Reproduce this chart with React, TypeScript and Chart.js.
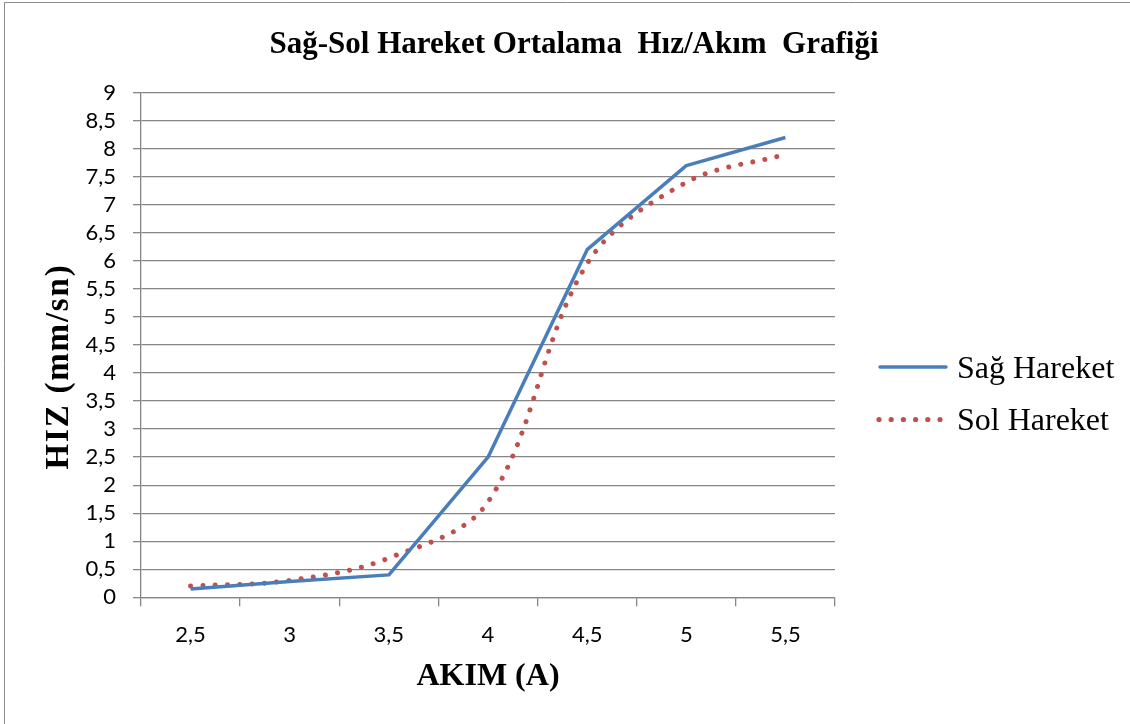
import React, { useEffect, useRef } from "react";
import { Chart, registerables } from "chart.js";

Chart.register(...registerables);

const categories = ["2,5", "3", "3,5", "4", "4,5", "5", "5,5"];
const sagHareket = [0.15, 0.28, 0.4, 2.5, 6.2, 7.7, 8.2];
const solHareket = [0.2, 0.3, 0.7, 1.7, 5.95, 7.4, 7.9];
const seriesNames = ["Sağ Hareket", "Sol Hareket"];
const chartTitle = "Sağ-Sol Hareket Ortalama  Hız/Akım  Grafiği";
const xTitle = "AKIM (A)";
const yTitle = "HIZ (mm/sn)";
const yMin = 0;
const yMax = 9;
const yStep = 0.5;

const BLUE = "#4a7ebb";
const RED = "#c0504d";
const GRID = "#868686";

const W = 1130;
const H = 724;

const decorPlugin = {
  id: "decor",
  beforeDraw(chart: any) {
    const ctx = chart.ctx;
    ctx.save();
    ctx.fillStyle = "#fff";
    ctx.fillRect(0, 0, W, H);
    ctx.strokeStyle = "#8c8c8c";
    ctx.lineWidth = 1;
    ctx.beginPath();
    ctx.moveTo(4.5, H);
    ctx.lineTo(4.5, 2.5);
    ctx.lineTo(W, 2.5);
    ctx.stroke();
    ctx.restore();
  },
  afterDraw(chart: any) {
    const ctx = chart.ctx;
    ctx.save();
    ctx.fillStyle = "#000";
    ctx.textBaseline = "alphabetic";
    // title
    ctx.font = 'bold 31px "Liberation Serif"';
    ctx.textAlign = "center";
    ctx.fillText(chartTitle, 574, 53);
    // y title
    ctx.save();
    ctx.translate(68, 366.5);
    ctx.rotate(-Math.PI / 2);
    ctx.font = 'bold 33px "Liberation Serif"';
    (ctx as any).letterSpacing = "1.8px";
    ctx.textAlign = "center";
    ctx.fillText(yTitle, 0, 0);
    ctx.restore();
    // legend
    ctx.lineCap = "round";
    ctx.strokeStyle = BLUE;
    ctx.lineWidth = 3.5;
    ctx.beginPath();
    ctx.moveTo(880, 367);
    ctx.lineTo(946, 367);
    ctx.stroke();
    ctx.fillStyle = RED;
    for (let i = 0; i < 6; i++) {
      ctx.beginPath();
      ctx.arc(879 + i * 12.2, 419.5, 2.6, 0, Math.PI * 2);
      ctx.fill();
    }
    ctx.fillStyle = "#000";
    ctx.textAlign = "left";
    ctx.font = '32px "Liberation Serif"';
    ctx.fillText(seriesNames[0], 957, 378);
    ctx.fillText(seriesNames[1], 957, 430);
    ctx.restore();
  },
};

export default function App() {
  const canvasRef = useRef<HTMLCanvasElement | null>(null);

  useEffect(() => {
    if (!canvasRef.current) return;
    const chart = new Chart(canvasRef.current, {
      type: "line",
      data: {
        labels: categories,
        datasets: [
          {
            label: seriesNames[0],
            data: sagHareket,
            borderColor: BLUE,
            backgroundColor: BLUE,
            borderWidth: 3.5,
            pointRadius: 0,
            tension: 0,
            borderJoinStyle: "round",
          },
          {
            label: seriesNames[1],
            data: solHareket,
            borderColor: RED,
            backgroundColor: RED,
            borderWidth: 5,
            pointRadius: 0,
            tension: 0.35,
            borderCapStyle: "round",
            borderDash: [0.01, 12.3],
          },
        ],
      },
      options: {
        responsive: false,
        animation: false,
        events: [],
        layout: { padding: { top: 92.7, right: W - 835, left: 0, bottom: 0 } },
        plugins: {
          legend: { display: false },
          title: { display: false },
          tooltip: { enabled: false },
        },
        scales: {
          x: {
            type: "category",
            offset: true,
            grid: {
              display: true,
              drawOnChartArea: false,
              drawTicks: true,
              tickLength: 9,
              color: GRID,
              lineWidth: 1.3,
              offset: true,
            },
            border: { display: true, color: GRID, width: 1.3 },
            ticks: {
              font: { family: "Lato", size: 22 },
              color: "#000",
              padding: 15,
              maxRotation: 0,
              autoSkip: false,
            },
            title: {
              display: true,
              text: xTitle,
              font: { family: '"Liberation Serif"', size: 32, weight: "bold" },
              color: "#000",
              padding: { top: 0, bottom: 28 },
            },
            afterFit: (s: any) => {
              s.height = H - 597.3;
            },
          },
          y: {
            min: yMin,
            max: yMax,
            ticks: {
              stepSize: yStep,
              autoSkip: false,
              font: { family: "Lato", size: 22 },
              color: "#000",
              padding: 17,
              callback: (v: any) => String(v).replace(".", ","),
            },
            grid: { color: GRID, lineWidth: 1.3, tickLength: 8, drawTicks: true },
            border: { display: true, color: GRID, width: 1.3 },
            afterFit: (s: any) => {
              s.width = 141;
            },
          },
        },
      },
      plugins: [decorPlugin],
    } as any);
    return () => chart.destroy();
  }, []);

  return (
    <div style={{ position: "absolute", left: 0, top: 0, width: W, height: H, background: "#fff" }}>
      <canvas ref={canvasRef} width={W} height={H} style={{ display: "block", width: W, height: H }} />
    </div>
  );
}
